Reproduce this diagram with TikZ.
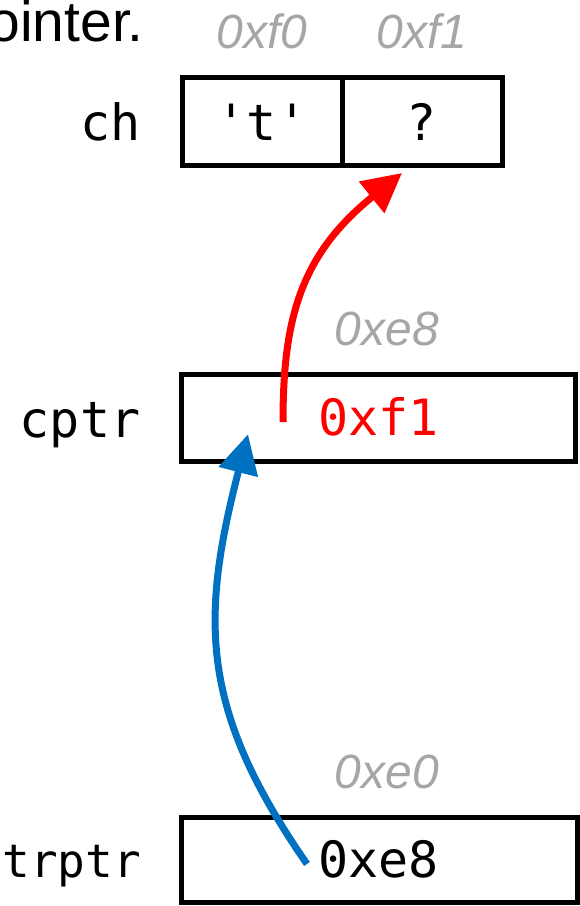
\documentclass[tikz,border=0pt]{standalone}
\usepackage{fontspec}
\setmainfont{Liberation Sans}
\setmonofont{DejaVu Sans Mono}
\usetikzlibrary{arrows.meta,calc}
\definecolor{addrgray}{RGB}{166,166,166}
\definecolor{ptrblue}{RGB}{0,112,192}
\definecolor{ptrred}{RGB}{255,0,0}
\begin{document}
\begin{tikzpicture}[x=1pt,y=-1pt,
  box/.style={draw=black, line width=5pt, inner sep=0pt, outer sep=0pt},
  code/.style={inner sep=0pt, font=\fontsize{50}{54}\selectfont\ttfamily},
  addr/.style={inner sep=0pt, anchor=base, text=addrgray, font=\fontsize{48}{52}\selectfont\itshape},
  ptrarrow/.style={line width=7pt, -{Triangle[length=39pt,width=39pt]}}
]
\useasboundingbox (0,0) rectangle (579,906);

% heading fragment
\node[inner sep=0pt, anchor=base east, font=\fontsize{57}{62}\selectfont] (title) at (144,41) {pointer.};

% ch
\node[box, minimum width=160pt, minimum height=88pt] (tcell) at (262,121) {};
\node[box, minimum width=160pt, minimum height=88pt] (qcell) at (422,121) {};
\node[code, anchor=base] (tval) at (262,140) {'t'};
\node[code, anchor=base] (qval) at (422,140) {?};
\node[code, anchor=base east] (chlab) at (140.5,140) {ch};
\node[addr] (a1) at (262,48) {0xf0};
\node[addr] (a2) at (422,48) {0xf1};

% cptr
\node[box, minimum width=394pt, minimum height=87pt] (cptr) at (378,417.75) {};
\node[code, anchor=base west, text=ptrred] (cval) at (318,435) {0xf1};
\node[code, anchor=base east] (clab) at (140.5,437) {cptr};
\node[addr] (a3) at (387,345) {0xe8};

% strptr
\node[box, minimum width=396pt, minimum height=85pt] (sptr) at (379,860) {};
\node[code, anchor=base west] (sval) at (318,877) {0xe8};
\node[code, anchor=base east, font=\fontsize{46}{50}\selectfont\ttfamily] (slab) at (141,877) {trptr};
\node[addr] (a4) at (387,788) {0xe0};

% arrows
\coordinate (rstart) at (283,422);
\coordinate (bstart) at (307,864);
\draw[ptrarrow, draw=ptrred] (rstart) .. controls (283,320) and (300,255) .. ([xshift=-20pt,yshift=-8pt]qcell.south);
\draw[ptrarrow, draw=ptrblue] (bstart) .. controls (200,710) and (200,620) .. ([xshift=67pt,yshift=27pt]cptr.south west);
\end{tikzpicture}
\end{document}
